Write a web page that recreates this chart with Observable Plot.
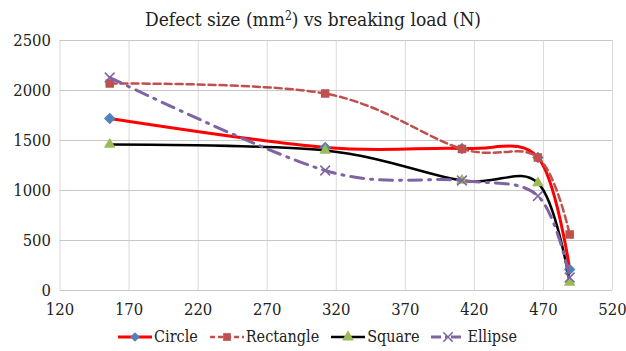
<!DOCTYPE html>
<html>
<head>
<meta charset="utf-8">
<script src="https://cdn.jsdelivr.net/npm/d3@7"></script>
<script src="https://cdn.jsdelivr.net/npm/@observablehq/plot@0.6"></script>
<style>
  body { margin: 0; background: #fff; }
  #wrap { width: 626px; height: 351px; position: relative; overflow: hidden; font-family: 'DejaVu Serif Condensed', 'DejaVu Serif'; }
  #title { height: 30px; line-height: 32px; text-align: center; font-size: 19px; color: #222; padding-left: 0px; }
  #legend { height: 29px; display: flex; justify-content: center; align-items: center; gap: 11px; font-size: 16px; color: #222; padding-left: 8px; }
  .item { display: flex; align-items: center; gap: 1px; }
</style>
</head>
<body>
<div id="wrap">
  <div id="title">Defect size (mm<sup style="font-size:12px;vertical-align:6px">2</sup>) vs breaking load (N)</div>
  <div id="chart"></div>
  <div id="legend"></div>
</div>
<script>
const breakingLoad = [156, 312, 411, 466, 489];
const circle    = [1720, 1430, 1420, 1330, 210];
const rectangle = [2070, 1970, 1415, 1330, 560];
const square    = [1460, 1400, 1100, 1075, 80];
const ellipse   = [2130, 1200, 1100, 945, 130];
const xTicks = [120, 170, 220, 270, 320, 370, 420, 470, 520];
const yTicks = [0, 500, 1000, 1500, 2000, 2500];

const seriesDefs = [
  {name: "Circle", values: circle, color: "#FF0000", width: 3, dash: null, symbol: "diamond2", mfill: "#4F81BD", mstroke: "none", msize: 5.2},
  {name: "Rectangle", values: rectangle, color: "#C0504D", width: 2.5, dash: "7,4", symbol: "square", mfill: "#C0504D", mstroke: "none", msize: 4.8},
  {name: "Square", values: square, color: "#000000", width: 2.5, dash: null, symbol: "triangle", mfill: "#9BBB59", mstroke: "none", msize: 4.3},
  {name: "Ellipse", values: ellipse, color: "#8064A2", width: 3, dash: "13,7,2,7", symbol: "times", mfill: "none", mstroke: "#8064A2", msize: 4.5}
];

const marks = [
  Plot.gridX(xTicks, {stroke: "#d9d9d9", strokeOpacity: 1, strokeWidth: 1}),
  Plot.gridY(yTicks, {stroke: "#c8c8c8", strokeOpacity: 1, strokeWidth: 1}),
  Plot.axisX(xTicks, {tickSize: 0, tickPadding: 13, fontSize: 16.5, fill: "#222", tickFormat: "d"}),
  Plot.axisY(yTicks, {tickSize: 0, tickPadding: 9, fontSize: 16.5, fill: "#222", tickFormat: "d"})
];
for (const s of seriesDefs) {
  const rows = breakingLoad.map((x, i) => ({x, y: s.values[i]}));
  marks.push(Plot.line(rows, {x: "x", y: "y", stroke: s.color, strokeWidth: s.width, strokeDasharray: s.dash, curve: "cardinal"}));
  marks.push(Plot.dot(rows, {x: "x", y: "y", symbol: () => s.symbol, r: s.msize, fill: s.mfill, stroke: s.mstroke, strokeWidth: s.mstroke === "none" ? 0 : 1.5}));
}

const chart = Plot.plot({
  width: 626,
  height: 292,
  marginTop: 10,
  marginBottom: 32,
  marginLeft: 59.5,
  marginRight: 14,
  style: {fontFamily: "'DejaVu Serif Condensed', 'DejaVu Serif'", background: "#fff"},
  x: {domain: [120, 520], label: null},
  y: {domain: [0, 2500], label: null},
  symbol: {type: "identity"},
  marks
});
document.getElementById("chart").appendChild(chart);

// legend
const legend = d3.select("#legend");
for (const s of seriesDefs) {
  const item = legend.append("div").attr("class", "item");
  const svg = item.append("svg").attr("width", 36).attr("height", 14);
  svg.append("line").attr("x1", 1).attr("x2", 35).attr("y1", 7).attr("y2", 7)
    .attr("stroke", s.color).attr("stroke-width", s.width)
    .attr("stroke-dasharray", s.name === "Rectangle" ? "5,3" : s.name === "Ellipse" ? "10,4,2,4" : null);
  const sym = {diamond2: d3.symbolDiamond2, square: d3.symbolSquare, triangle: d3.symbolTriangle, times: d3.symbolTimes}[s.symbol];
  svg.append("path").attr("transform", "translate(18,7)")
    .attr("d", d3.symbol(sym, 60)())
    .attr("fill", s.mfill).attr("stroke", s.mstroke).attr("stroke-width", s.mstroke === "none" ? 0 : 1.5);
  item.append("span").text(s.name);
}
</script>
</body>
</html>
